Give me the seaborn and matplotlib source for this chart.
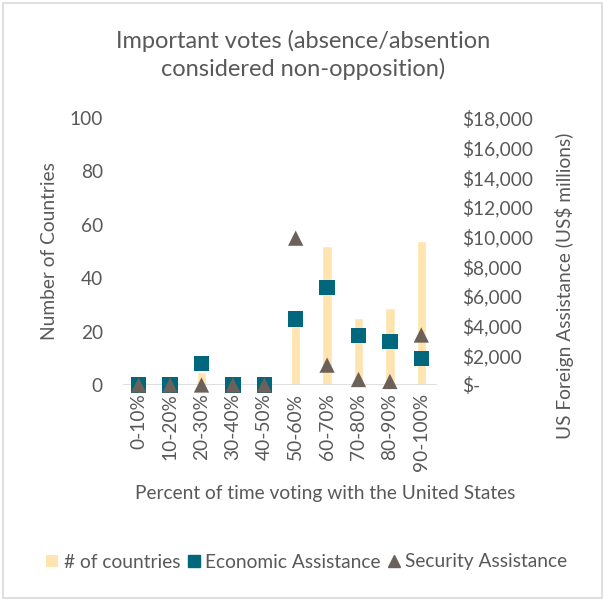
import matplotlib
matplotlib.use("Agg")
import matplotlib.pyplot as plt
import seaborn as sns
import numpy as np
import pandas as pd
from matplotlib.lines import Line2D
from matplotlib.patches import Patch, Rectangle
from matplotlib.ticker import FuncFormatter

categories = ["0-10%", "10-20%", "20-30%", "30-40%", "40-50%",
              "50-60%", "60-70%", "70-80%", "80-90%", "90-100%"]
num_countries = [0, 0, 5, 0, 0, 25, 52, 25, 29, 54]
economic = [0, 0, 1470, 0, 0, 4450, 6580, 3340, 2950, 1780]
security = [0, 0, 0, 0, 0, 9900, 1340, 370, 240, 3370]
left_ticks = [0, 20, 40, 60, 80, 100]
right_ticks = [0, 2000, 4000, 6000, 8000, 10000, 12000, 14000, 16000, 18000]

BAR = "#FFE4B0"
ECON = "#00677C"
SEC = "#6B6159"
TXT = "#595959"
FONT = "Lato"
FS = 13.8

sns.set_theme(style="white")
plt.rcParams["font.family"] = [FONT, "DejaVu Sans"]

df = pd.DataFrame({"cat": categories, "n": num_countries,
                   "econ": economic, "sec": security,
                   "pos": np.arange(len(categories))})

fig = plt.figure(figsize=(6.03, 6.02), dpi=100)
ax = fig.add_axes([123/603, 217/602, 314/603, 267/602])

sns.barplot(data=df, x="cat", y="n", color=BAR, saturation=1, width=0.3, ax=ax)
ax.set_xlim(-0.5, len(categories) - 0.5)
ax.set_ylim(0, 100)
ax.set_yticks(left_ticks)
ax.tick_params(axis="y", length=0, pad=14.5, labelsize=FS, colors=TXT)
ax.tick_params(axis="x", length=0, pad=6, labelsize=FS, colors=TXT, rotation=90)
for s in ax.spines.values():
    s.set_visible(False)
ax.axhline(0, color="#D9D9D9", lw=1.2, zorder=1)
ax.set_xlabel("")
ax.set_ylabel("")

ax2 = ax.twinx()
sns.scatterplot(data=df, x="pos", y="econ", marker="s", s=11**2, color=ECON,
                edgecolor="none", ax=ax2, clip_on=False, zorder=3)
sns.scatterplot(data=df, x="pos", y="sec", marker="^", s=11**2, color=SEC,
                edgecolor="none", ax=ax2, clip_on=False, zorder=4)
ax2.set_xlim(-0.5, len(categories) - 0.5)
ax2.set_ylim(0, 18000)
ax2.set_yticks(right_ticks)
ax2.yaxis.set_major_formatter(FuncFormatter(lambda v, p: "$-" if v == 0 else f"${v:,.0f}"))
ax2.tick_params(axis="y", length=0, pad=18, labelsize=FS, colors=TXT)
for s in ax2.spines.values():
    s.set_visible(False)
ax2.set_xlabel("")
ax2.set_ylabel("")

fig.text(50/603, 1 - 251/602, "Number of Countries", rotation=90, ha="center",
         va="center", fontsize=FS, color=TXT)
fig.text(564/603, 1 - 286/602, "US Foreign Assistance (US$ millions)", rotation=90,
         ha="center", va="center", fontsize=FS, color=TXT)
fig.text(325/603, 1 - 494/602, "Percent of time voting with the United States",
         ha="center", va="center", fontsize=FS, color=TXT)
fig.text(303/603, 1 - 55/602, "Important votes (absence/absention\nconsidered non-opposition)",
         ha="center", va="center", fontsize=17, color=TXT, linespacing=1.3)

handles = [Patch(facecolor=BAR, edgecolor="none", label="# of countries"),
           Line2D([], [], marker="s", color=ECON, ls="none", markersize=8, label="Economic Assistance"),
           Line2D([], [], marker="^", color=SEC, ls="none", markersize=8, label="Security Assistance")]
leg = fig.legend(handles=handles, loc="center", bbox_to_anchor=(307/603, 1 - 562/602),
                 ncol=3, frameon=False, fontsize=FS, handlelength=0.6, handletextpad=0.3,
                 columnspacing=0.4, handleheight=0.6)
for t in leg.get_texts():
    t.set_color(TXT)

fig.patches.append(Rectangle((3/603, 4/602), 599/603, 595/602, transform=fig.transFigure,
                             fill=False, edgecolor="#D9D9D9", lw=1.2))

fig.savefig("out.png", dpi=100)
